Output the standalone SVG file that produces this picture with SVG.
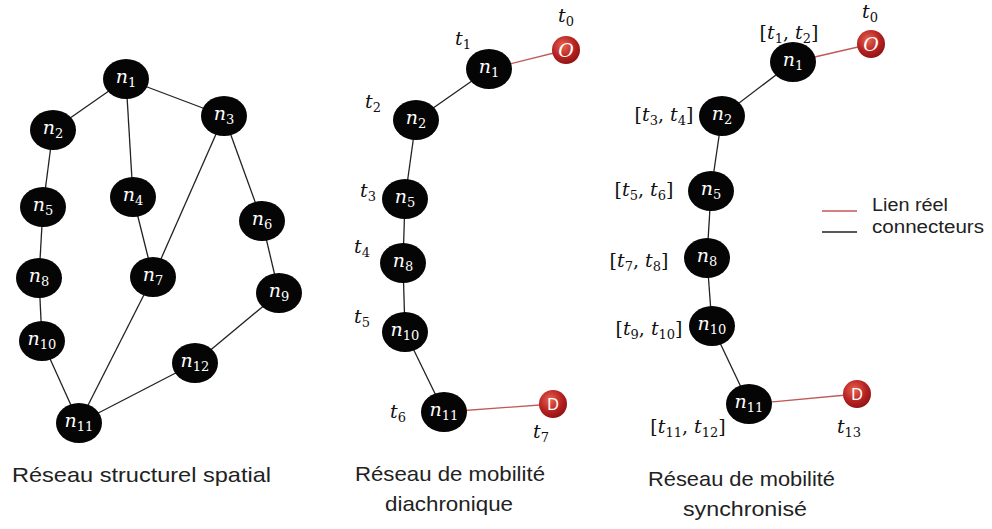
<svg xmlns="http://www.w3.org/2000/svg" width="992" height="529" viewBox="0 0 992 529">
<style>
.bg{fill:#fff}
.e{stroke:#222;stroke-width:1.3;fill:none}
.r{stroke:#c05858;stroke-width:1.3;fill:none}
.nd{fill:#050505}
.nl{font-family:"DejaVu Serif","Liberation Serif",serif;fill:#fff;font-size:19px;text-anchor:middle}
.tl{font-family:"DejaVu Serif","Liberation Serif",serif;fill:#111;font-size:19px;text-anchor:middle}
.it{font-style:italic}
.sb{font-size:13px}
.od{fill:url(#rg)}
.cap{font-family:"Liberation Sans",Arial,sans-serif;font-size:21px;fill:#222}
.lg{font-family:"Liberation Sans",Arial,sans-serif;font-size:18px;fill:#222}
</style>
<defs>
<radialGradient id="rg" cx="0.4" cy="0.35" r="0.7">
<stop offset="0" stop-color="#e8654f"/>
<stop offset="0.6" stop-color="#b52222"/>
<stop offset="1" stop-color="#8c1212"/>
</radialGradient>
</defs>
<rect class="bg" x="0" y="0" width="992" height="529"/>

<g id="connectors">
<!-- left graph -->
<line class="e" x1="126" y1="79" x2="53" y2="130"/>
<line class="e" x1="126" y1="79" x2="133" y2="197"/>
<line class="e" x1="126" y1="79" x2="224" y2="116"/>
<line class="e" x1="53" y1="130" x2="43" y2="207"/>
<line class="e" x1="43" y1="207" x2="39" y2="278"/>
<line class="e" x1="39" y1="278" x2="42" y2="341"/>
<line class="e" x1="42" y1="341" x2="79" y2="423"/>
<line class="e" x1="133" y1="197" x2="153" y2="277"/>
<line class="e" x1="224" y1="116" x2="153" y2="277"/>
<line class="e" x1="153" y1="277" x2="79" y2="423"/>
<line class="e" x1="224" y1="116" x2="262" y2="221"/>
<line class="e" x1="262" y1="221" x2="279" y2="293"/>
<line class="e" x1="279" y1="293" x2="195" y2="363"/>
<line class="e" x1="195" y1="363" x2="79" y2="423"/>
<!-- middle graph -->
<line class="r" x1="489" y1="69" x2="566" y2="50"/>
<line class="e" x1="489" y1="69" x2="416" y2="120"/>
<line class="e" x1="416" y1="120" x2="405" y2="199"/>
<line class="e" x1="405" y1="199" x2="403" y2="263"/>
<line class="e" x1="403" y1="263" x2="405" y2="332"/>
<line class="e" x1="405" y1="332" x2="444" y2="412"/>
<line class="r" x1="444" y1="412" x2="553" y2="404"/>
<!-- right graph -->
<line class="r" x1="793" y1="62" x2="871" y2="44"/>
<line class="e" x1="793" y1="62" x2="722" y2="116"/>
<line class="e" x1="722" y1="116" x2="711" y2="191"/>
<line class="e" x1="711" y1="191" x2="707" y2="258"/>
<line class="e" x1="707" y1="258" x2="712" y2="326"/>
<line class="e" x1="712" y1="326" x2="749" y2="404"/>
<line class="r" x1="749" y1="404" x2="857" y2="394"/>
</g>

<!-- left graph nodes -->
<g id="L-n1"><ellipse class="nd" cx="126" cy="79" rx="23" ry="20"/><text class="nl" x="126" y="83"><tspan class="it">n</tspan><tspan class="sb" dy="4">1</tspan></text></g>
<g id="L-n2"><ellipse class="nd" cx="53" cy="130" rx="23" ry="20"/><text class="nl" x="53" y="134"><tspan class="it">n</tspan><tspan class="sb" dy="4">2</tspan></text></g>
<g id="L-n3"><ellipse class="nd" cx="224" cy="116" rx="23" ry="20"/><text class="nl" x="224" y="120"><tspan class="it">n</tspan><tspan class="sb" dy="4">3</tspan></text></g>
<g id="L-n4"><ellipse class="nd" cx="133" cy="197" rx="23" ry="20"/><text class="nl" x="133" y="201"><tspan class="it">n</tspan><tspan class="sb" dy="4">4</tspan></text></g>
<g id="L-n5"><ellipse class="nd" cx="43" cy="207" rx="23" ry="20"/><text class="nl" x="43" y="211"><tspan class="it">n</tspan><tspan class="sb" dy="4">5</tspan></text></g>
<g id="L-n6"><ellipse class="nd" cx="262" cy="221" rx="23" ry="20"/><text class="nl" x="262" y="225"><tspan class="it">n</tspan><tspan class="sb" dy="4">6</tspan></text></g>
<g id="L-n7"><ellipse class="nd" cx="153" cy="277" rx="23" ry="20"/><text class="nl" x="153" y="281"><tspan class="it">n</tspan><tspan class="sb" dy="4">7</tspan></text></g>
<g id="L-n8"><ellipse class="nd" cx="39" cy="278" rx="23" ry="20"/><text class="nl" x="39" y="282"><tspan class="it">n</tspan><tspan class="sb" dy="4">8</tspan></text></g>
<g id="L-n9"><ellipse class="nd" cx="279" cy="293" rx="23" ry="20"/><text class="nl" x="279" y="297"><tspan class="it">n</tspan><tspan class="sb" dy="4">9</tspan></text></g>
<g id="L-n10"><ellipse class="nd" cx="42" cy="341" rx="23" ry="20"/><text class="nl" x="42" y="345"><tspan class="it">n</tspan><tspan class="sb" dy="4">10</tspan></text></g>
<g id="L-n11"><ellipse class="nd" cx="79" cy="423" rx="23" ry="20"/><text class="nl" x="79" y="427"><tspan class="it">n</tspan><tspan class="sb" dy="4">11</tspan></text></g>
<g id="L-n12"><ellipse class="nd" cx="195" cy="363" rx="23" ry="20"/><text class="nl" x="195" y="367"><tspan class="it">n</tspan><tspan class="sb" dy="4">12</tspan></text></g>

<!-- middle graph nodes -->
<g id="M-O"><circle class="od" cx="566" cy="50" r="14"/><text class="nl it" x="566" y="57" font-size="18">O</text></g>
<g id="M-n1"><ellipse class="nd" cx="489" cy="69" rx="23" ry="20"/><text class="nl" x="489" y="73"><tspan class="it">n</tspan><tspan class="sb" dy="4">1</tspan></text></g>
<g id="M-n2"><ellipse class="nd" cx="416" cy="120" rx="23" ry="20"/><text class="nl" x="416" y="124"><tspan class="it">n</tspan><tspan class="sb" dy="4">2</tspan></text></g>
<g id="M-n5"><ellipse class="nd" cx="405" cy="199" rx="23" ry="20"/><text class="nl" x="405" y="203"><tspan class="it">n</tspan><tspan class="sb" dy="4">5</tspan></text></g>
<g id="M-n8"><ellipse class="nd" cx="403" cy="263" rx="23" ry="20"/><text class="nl" x="403" y="267"><tspan class="it">n</tspan><tspan class="sb" dy="4">8</tspan></text></g>
<g id="M-n10"><ellipse class="nd" cx="405" cy="332" rx="23" ry="20"/><text class="nl" x="405" y="336"><tspan class="it">n</tspan><tspan class="sb" dy="4">10</tspan></text></g>
<g id="M-n11"><ellipse class="nd" cx="444" cy="412" rx="23" ry="20"/><text class="nl" x="444" y="416"><tspan class="it">n</tspan><tspan class="sb" dy="4">11</tspan></text></g>
<g id="M-D"><circle class="od" cx="553" cy="404" r="14"/><text x="553" y="410" font-family="Liberation Sans,Arial,sans-serif" font-size="16" fill="#fff" text-anchor="middle">D</text></g>
<g id="M-labels">
<text class="tl" x="566" y="22"><tspan class="it">t</tspan><tspan class="sb" dy="4">0</tspan></text>
<text class="tl" x="463" y="45"><tspan class="it">t</tspan><tspan class="sb" dy="4">1</tspan></text>
<text class="tl" x="373" y="108"><tspan class="it">t</tspan><tspan class="sb" dy="4">2</tspan></text>
<text class="tl" x="368" y="197"><tspan class="it">t</tspan><tspan class="sb" dy="4">3</tspan></text>
<text class="tl" x="362" y="253"><tspan class="it">t</tspan><tspan class="sb" dy="4">4</tspan></text>
<text class="tl" x="362" y="323"><tspan class="it">t</tspan><tspan class="sb" dy="4">5</tspan></text>
<text class="tl" x="398" y="418"><tspan class="it">t</tspan><tspan class="sb" dy="4">6</tspan></text>
<text class="tl" x="541" y="438"><tspan class="it">t</tspan><tspan class="sb" dy="4">7</tspan></text>
</g>

<!-- right graph nodes -->
<g id="R-O"><circle class="od" cx="871" cy="44" r="14"/><text class="nl it" x="871" y="51" font-size="18">O</text></g>
<g id="R-n1"><ellipse class="nd" cx="793" cy="62" rx="23" ry="20"/><text class="nl" x="793" y="66"><tspan class="it">n</tspan><tspan class="sb" dy="4">1</tspan></text></g>
<g id="R-n2"><ellipse class="nd" cx="722" cy="116" rx="23" ry="20"/><text class="nl" x="722" y="120"><tspan class="it">n</tspan><tspan class="sb" dy="4">2</tspan></text></g>
<g id="R-n5"><ellipse class="nd" cx="711" cy="191" rx="23" ry="20"/><text class="nl" x="711" y="195"><tspan class="it">n</tspan><tspan class="sb" dy="4">5</tspan></text></g>
<g id="R-n8"><ellipse class="nd" cx="707" cy="258" rx="23" ry="20"/><text class="nl" x="707" y="262"><tspan class="it">n</tspan><tspan class="sb" dy="4">8</tspan></text></g>
<g id="R-n10"><ellipse class="nd" cx="712" cy="326" rx="23" ry="20"/><text class="nl" x="712" y="330"><tspan class="it">n</tspan><tspan class="sb" dy="4">10</tspan></text></g>
<g id="R-n11"><ellipse class="nd" cx="749" cy="404" rx="23" ry="20"/><text class="nl" x="749" y="408"><tspan class="it">n</tspan><tspan class="sb" dy="4">11</tspan></text></g>
<g id="R-D"><circle class="od" cx="857" cy="394" r="14"/><text x="857" y="400" font-family="Liberation Sans,Arial,sans-serif" font-size="16" fill="#fff" text-anchor="middle">D</text></g>
<g id="R-labels">
<text class="tl" x="870" y="18"><tspan class="it">t</tspan><tspan class="sb" dy="4">0</tspan></text>
<text class="tl" x="789" y="39">[<tspan class="it">t</tspan><tspan class="sb" dy="4">1</tspan><tspan dy="-4">, </tspan><tspan class="it">t</tspan><tspan class="sb" dy="4">2</tspan><tspan dy="-4">]</tspan></text>
<text class="tl" x="664" y="121">[<tspan class="it">t</tspan><tspan class="sb" dy="4">3</tspan><tspan dy="-4">, </tspan><tspan class="it">t</tspan><tspan class="sb" dy="4">4</tspan><tspan dy="-4">]</tspan></text>
<text class="tl" x="644" y="196">[<tspan class="it">t</tspan><tspan class="sb" dy="4">5</tspan><tspan dy="-4">, </tspan><tspan class="it">t</tspan><tspan class="sb" dy="4">6</tspan><tspan dy="-4">]</tspan></text>
<text class="tl" x="639" y="267">[<tspan class="it">t</tspan><tspan class="sb" dy="4">7</tspan><tspan dy="-4">, </tspan><tspan class="it">t</tspan><tspan class="sb" dy="4">8</tspan><tspan dy="-4">]</tspan></text>
<text class="tl" x="649" y="335">[<tspan class="it">t</tspan><tspan class="sb" dy="4">9</tspan><tspan dy="-4">, </tspan><tspan class="it">t</tspan><tspan class="sb" dy="4">10</tspan><tspan dy="-4">]</tspan></text>
<text class="tl" x="688" y="433">[<tspan class="it">t</tspan><tspan class="sb" dy="4">11</tspan><tspan dy="-4">, </tspan><tspan class="it">t</tspan><tspan class="sb" dy="4">12</tspan><tspan dy="-4">]</tspan></text>
<text class="tl" x="849" y="433"><tspan class="it">t</tspan><tspan class="sb" dy="4">13</tspan></text>
</g>

<g id="legend">
<line class="r" x1="822" y1="211" x2="857" y2="211"/>
<line class="e" x1="822" y1="232" x2="857" y2="232"/>
<text class="lg" x="872" y="211" textLength="76" lengthAdjust="spacingAndGlyphs">Lien réel</text>
<text class="lg" x="872" y="233" textLength="112" lengthAdjust="spacingAndGlyphs">connecteurs</text>
</g>

<g id="captions">
<text class="cap" x="12" y="482" textLength="259" lengthAdjust="spacingAndGlyphs">Réseau structurel spatial</text>
<text class="cap" x="355" y="481" textLength="190" lengthAdjust="spacingAndGlyphs">Réseau de mobilité</text>
<text class="cap" x="385" y="511" textLength="128" lengthAdjust="spacingAndGlyphs">diachronique</text>
<text class="cap" x="648" y="486" textLength="187" lengthAdjust="spacingAndGlyphs">Réseau de mobilité</text>
<text class="cap" x="683" y="516" textLength="124" lengthAdjust="spacingAndGlyphs">synchronisé</text>
</g>
</svg>
